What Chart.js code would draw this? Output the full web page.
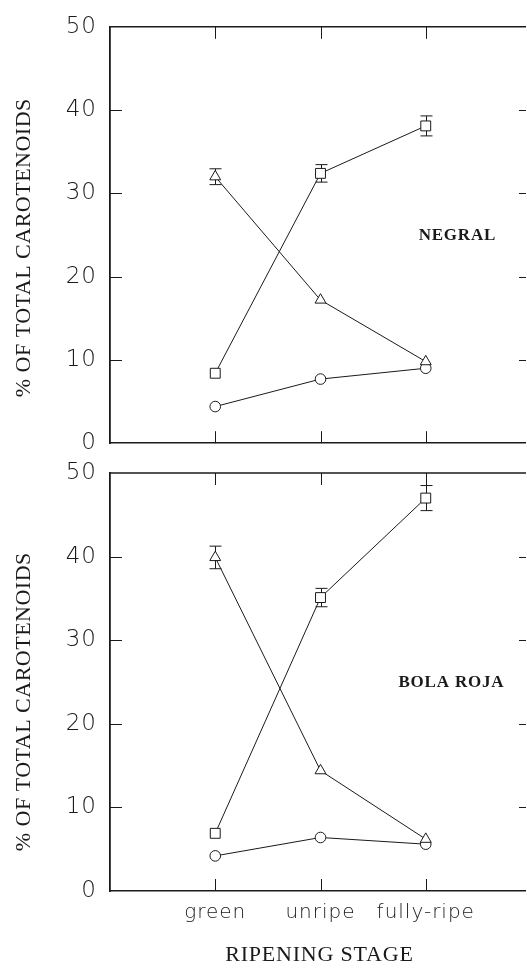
<!DOCTYPE html>
<html>
<head>
<meta charset="utf-8">
<script src="https://cdn.jsdelivr.net/npm/chart.js@4.4.0/dist/chart.umd.min.js"></script>
<style>
  html, body { margin: 0; padding: 0; background: #fff; overflow: hidden; width: 527px; height: 969px; }
  #wrap { position: relative; width: 526px; height: 969px; overflow: hidden; background: #fff; }
  canvas { position: absolute; left: 0; }
  #top { top: 0; }
  #bottom { top: 440px; }
</style>
</head>
<body>
<div id="wrap">
<canvas id="top" width="600" height="470"></canvas>
<canvas id="bottom" width="600" height="529"></canvas>
</div>
<script>
// ripening stages on the x axis, y ticks shared by both panels
const stages = ["green", "unripe", "fully-ripe"];
const yTicks = [0, 10, 20, 30, 40, 50];

// NEGRAL panel
const negralSquare = [8.4, 32.4, 38.1];
const negralSquareErr = [0, 1.05, 1.2];
const negralTriangle = [32.0, 17.2, 9.8];
const negralTriangleErr = [0.95, 0, 0];
const negralCircle = [4.4, 7.7, 9.0];

// BOLA ROJA panel
const bolaSquare = [6.9, 35.1, 47.0];
const bolaSquareErr = [0, 1.1, 1.5];
const bolaTriangle = [39.9, 14.4, 6.2];
const bolaTriangleErr = [1.35, 0, 0];
const bolaCircle = [4.2, 6.4, 5.6];

const INK = "#1a1a1a";
const NUM_FONT = '"DejaVu Sans ExtraLight", "DejaVu Sans"';

// turn a value list into {x, y} points at stage positions 1..3
const toPoints = (values) => values.map((v, i) => ({ x: i + 1, y: v }));

const series = (values, errors, style, radius) => ({
  data: toPoints(values),
  errors: errors,
  showLine: true,
  borderColor: INK,
  borderWidth: 1,
  tension: 0,
  pointStyle: style,
  pointRadius: radius,
  pointBackgroundColor: "#fff",
  pointBorderColor: INK,
  pointBorderWidth: 1,
});

// draws text with its own letter spacing, optionally rotated
const drawText = (ctx, text, x, y, font, spacing, angle) => {
  ctx.save();
  ctx.translate(x, y);
  if (angle) ctx.rotate(angle);
  ctx.font = font;
  ctx.letterSpacing = spacing + "px";
  ctx.fillStyle = INK;
  ctx.textAlign = "center";
  ctx.textBaseline = "middle";
  // letterSpacing adds a gap after the last char too, shift half of it back
  ctx.fillText(text, spacing / 2, 0);
  ctx.restore();
};

// frame, inward ticks, error bars and the panel texts
const framePlugin = {
  id: "frame",
  beforeDraw(chart) {
    chart.ctx.letterSpacing = "1px";
  },
  beforeDatasetsDraw(chart) {
    const { ctx, chartArea: a } = chart;
    const x = chart.scales.x;
    const y = chart.scales.y;
    ctx.save();
    ctx.strokeStyle = INK;
    // top edge only, the right edge falls outside the page
    ctx.lineWidth = 1.5;
    ctx.beginPath();
    ctx.moveTo(a.left, a.top);
    ctx.lineTo(a.right, a.top);
    ctx.stroke();

    ctx.lineWidth = 1;
    ctx.beginPath();
    stages.forEach((s, i) => {
      const px = Math.round(x.getPixelForValue(i + 1)) + 0.5;
      ctx.moveTo(px, a.top);
      ctx.lineTo(px, a.top + 12);
      ctx.moveTo(px, a.bottom);
      ctx.lineTo(px, a.bottom - 12);
    });
    yTicks.slice(1, -1).forEach((v) => {
      const py = Math.round(y.getPixelForValue(v)) + 0.5;
      ctx.moveTo(a.left, py);
      ctx.lineTo(a.left + 12, py);
      ctx.moveTo(a.right, py);
      ctx.lineTo(a.right - 12, py);
    });
    ctx.stroke();

    // error bars with caps
    chart.data.datasets.forEach((ds) => {
      ds.errors.forEach((e, i) => {
        if (!e) return;
        const px = Math.round(x.getPixelForValue(ds.data[i].x)) + 0.5;
        const hi = y.getPixelForValue(ds.data[i].y + e);
        const lo = y.getPixelForValue(ds.data[i].y - e);
        ctx.beginPath();
        ctx.moveTo(px, hi);
        ctx.lineTo(px, lo);
        ctx.moveTo(px - 6, hi);
        ctx.lineTo(px + 6, hi);
        ctx.moveTo(px - 6, lo);
        ctx.lineTo(px + 6, lo);
        ctx.stroke();
      });
    });
    ctx.restore();
  },
  afterDraw(chart, args, opts) {
    const ctx = chart.ctx;
    drawText(ctx, "% OF TOTAL CAROTENOIDS", 24, opts.titleY,
      '22px "Liberation Serif"', 0.5, -Math.PI / 2);
    drawText(ctx, opts.name, opts.nameX, opts.nameY,
      'bold 17px "Liberation Serif"', 0.8, 0);
    if (opts.xTitle) {
      drawText(ctx, opts.xTitle, 319, opts.xTitleY,
        '22px "Liberation Serif"', 0.8, 0);
    }
  },
};

const makePanel = (id, datasets, cfg) => {
  const cvs = document.getElementById(id).getContext("2d");
  return new Chart(cvs, {
    type: "line",
    data: { datasets: datasets },
    plugins: [framePlugin],
    options: {
      responsive: false,
      devicePixelRatio: 1,
      animation: false,
      events: [],
      layout: { padding: { top: cfg.padTop, right: 69, left: 0, bottom: 0 } },
      plugins: {
        legend: { display: false },
        tooltip: { enabled: false },
        frame: cfg.frame,
      },
      scales: {
        x: {
          type: "linear",
          min: 0,
          max: 4,
          afterBuildTicks: (s) => {
            s.ticks = stages.map((_, i) => ({ value: i + 1 }));
          },
          afterFit: (s) => {
            s.height = cfg.xHeight;
          },
          grid: { display: false, drawTicks: false },
          border: { color: INK, width: 1.5 },
          ticks: {
            display: cfg.showStages,
            autoSkip: false,
            maxRotation: 0,
            padding: 10,
            color: INK,
            font: { family: NUM_FONT, size: 20, weight: 200 },
            callback: (v, i) => stages[i],
          },
        },
        y: {
          min: 0,
          max: 50,
          afterFit: (s) => {
            s.width = 110;
          },
          grid: { display: false, drawTicks: false },
          border: { color: INK, width: 1.8 },
          ticks: {
            stepSize: 10,
            padding: 13,
            color: INK,
            font: { family: NUM_FONT, size: 23, weight: 200 },
          },
        },
      },
    },
  });
};

makePanel("top", [
  series(negralSquare, negralSquareErr, "rect", 7),
  series(negralTriangle, negralTriangleErr, "triangle", 6.3),
  series(negralCircle, [0, 0, 0], "circle", 5.3),
], {
  padTop: 24,
  xHeight: 23,
  showStages: false,
  frame: { titleY: 248, name: "NEGRAL", nameX: 457, nameY: 236 },
});

makePanel("bottom", [
  series(bolaSquare, bolaSquareErr, "rect", 7),
  series(bolaTriangle, bolaTriangleErr, "triangle", 6.3),
  series(bolaCircle, [0, 0, 0], "circle", 5.3),
], {
  padTop: 33,
  xHeight: 78,
  showStages: true,
  frame: { titleY: 262, name: "BOLA ROJA", nameX: 451, nameY: 243, xTitle: "RIPENING STAGE", xTitleY: 515 },
});
</script>
</body>
</html>
